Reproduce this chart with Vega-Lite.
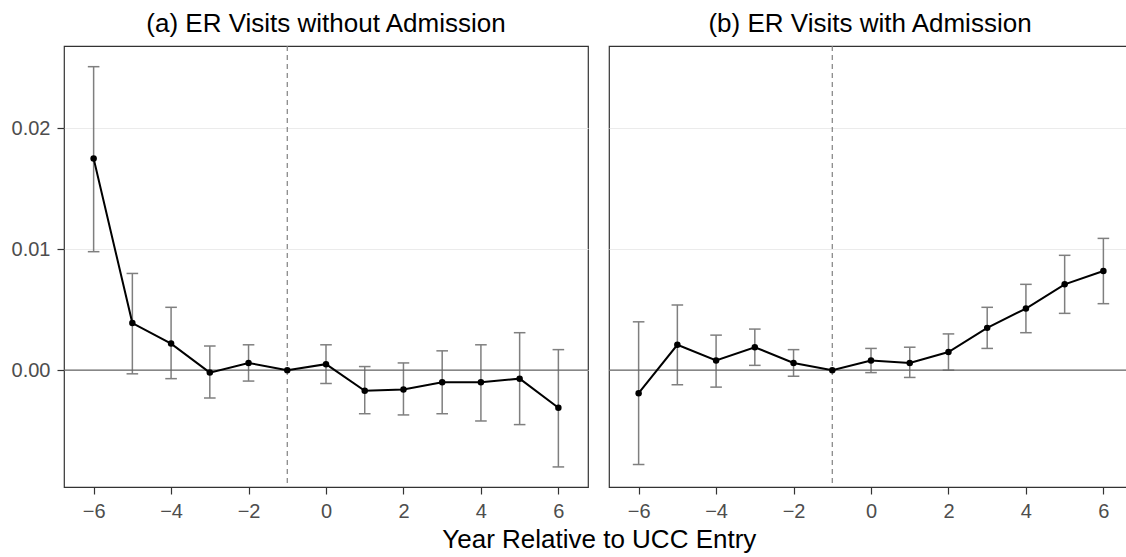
{
  "$schema": "https://vega.github.io/schema/vega-lite/v6.json",
  "background": "white",
  "padding": {"left": 0, "top": 10, "right": 0, "bottom": 0},
  "spacing": 17,
  "datasets": {
    "est": [
      {"panel": "a", "x": -6, "est": 0.0175, "lo": 0.0098, "hi": 0.0251},
      {"panel": "a", "x": -5, "est": 0.0039, "lo": -0.0003, "hi": 0.0080},
      {"panel": "a", "x": -4, "est": 0.0022, "lo": -0.0007, "hi": 0.0052},
      {"panel": "a", "x": -3, "est": -0.0002, "lo": -0.0023, "hi": 0.0020},
      {"panel": "a", "x": -2, "est": 0.0006, "lo": -0.0009, "hi": 0.0021},
      {"panel": "a", "x": -1, "est": 0, "lo": null, "hi": null},
      {"panel": "a", "x": 0, "est": 0.0005, "lo": -0.0011, "hi": 0.0021},
      {"panel": "a", "x": 1, "est": -0.0017, "lo": -0.0036, "hi": 0.0003},
      {"panel": "a", "x": 2, "est": -0.0016, "lo": -0.0037, "hi": 0.0006},
      {"panel": "a", "x": 3, "est": -0.0010, "lo": -0.0036, "hi": 0.0016},
      {"panel": "a", "x": 4, "est": -0.0010, "lo": -0.0042, "hi": 0.0021},
      {"panel": "a", "x": 5, "est": -0.0007, "lo": -0.0045, "hi": 0.0031},
      {"panel": "a", "x": 6, "est": -0.0031, "lo": -0.0080, "hi": 0.0017},
      {"panel": "b", "x": -6, "est": -0.0019, "lo": -0.0078, "hi": 0.0040},
      {"panel": "b", "x": -5, "est": 0.0021, "lo": -0.0012, "hi": 0.0054},
      {"panel": "b", "x": -4, "est": 0.0008, "lo": -0.0014, "hi": 0.0029},
      {"panel": "b", "x": -3, "est": 0.0019, "lo": 0.0004, "hi": 0.0034},
      {"panel": "b", "x": -2, "est": 0.0006, "lo": -0.0005, "hi": 0.0017},
      {"panel": "b", "x": -1, "est": 0, "lo": null, "hi": null},
      {"panel": "b", "x": 0, "est": 0.0008, "lo": -0.0002, "hi": 0.0018},
      {"panel": "b", "x": 1, "est": 0.0006, "lo": -0.0006, "hi": 0.0019},
      {"panel": "b", "x": 2, "est": 0.0015, "lo": 0.0000, "hi": 0.0030},
      {"panel": "b", "x": 3, "est": 0.0035, "lo": 0.0018, "hi": 0.0052},
      {"panel": "b", "x": 4, "est": 0.0051, "lo": 0.0031, "hi": 0.0071},
      {"panel": "b", "x": 5, "est": 0.0071, "lo": 0.0047, "hi": 0.0095},
      {"panel": "b", "x": 6, "est": 0.0082, "lo": 0.0055, "hi": 0.0109}
    ]
  },
  "title": {
    "text": "Year Relative to UCC Entry",
    "orient": "bottom",
    "anchor": "middle",
    "frame": "bounds",
    "dx": 33,
    "fontSize": 26,
    "fontWeight": "normal",
    "font": "Liberation Sans",
    "color": "black",
    "offset": 5
  },
  "config": {
    "view": {"stroke": "#333333", "strokeWidth": 1.2},
    "axis": {
      "labelFont": "Liberation Sans",
      "labelFontSize": 20,
      "labelColor": "#4D4D4D",
      "tickColor": "#333333",
      "tickWidth": 1.2,
      "tickSize": 7,
      "domain": false,
      "title": null
    },
    "axisX": {"labelPadding": 7},
    "axisY": {"labelPadding": 7}
  },
  "hconcat": [
    {
      "width": 524,
      "height": 441,
      "title": {"text": "(a) ER Visits without Admission", "fontSize": 26, "fontWeight": "normal", "font": "Liberation Sans", "color": "black", "anchor": "middle", "frame": "group", "offset": 8},
      "data": {"name": "est"},
      "transform": [{"filter": "datum.panel == 'a'"}],
      "layer": [
        {
          "mark": {"type": "rule", "color": "#7F7F7F", "strokeWidth": 1.5},
          "encoding": {
            "x": {"field": "x", "type": "quantitative", "scale": {"domain": [-6.765, 6.765], "nice": false, "zero": false},
                  "axis": {"values": [-6, -4, -2, 0, 2, 4, 6], "format": "d", "grid": false}},
            "y": {"field": "lo", "type": "quantitative", "scale": {"domain": [-0.00966, 0.02681], "nice": false, "zero": false},
                  "axis": {"values": [0, 0.01, 0.02], "format": ".2f", "grid": true, "gridColor": "#EBEBEB", "gridWidth": 1, "minExtent": 63, "maxExtent": 63}},
            "y2": {"field": "hi"}
          }
        },
        {
          "mark": {"type": "tick", "orient": "horizontal", "color": "#7F7F7F", "size": 11.6, "thickness": 1.5, "opacity": 1},
          "encoding": {"x": {"field": "x", "type": "quantitative"}, "y": {"field": "lo", "type": "quantitative"}}
        },
        {
          "mark": {"type": "tick", "orient": "horizontal", "color": "#7F7F7F", "size": 11.6, "thickness": 1.5, "opacity": 1},
          "encoding": {"x": {"field": "x", "type": "quantitative"}, "y": {"field": "hi", "type": "quantitative"}}
        },
        {
          "data": {"values": [{"z": 0}]},
          "mark": {"type": "rule", "color": "#666666", "strokeWidth": 1.2},
          "encoding": {"y": {"field": "z", "type": "quantitative"}}
        },
        {
          "data": {"values": [{"v": -1}]},
          "mark": {"type": "rule", "color": "#808080", "strokeWidth": 1.2, "strokeDash": [5, 4]},
          "encoding": {"x": {"field": "v", "type": "quantitative"}}
        },
        {
          "mark": {"type": "line", "color": "black", "strokeWidth": 2},
          "encoding": {"x": {"field": "x", "type": "quantitative"}, "y": {"field": "est", "type": "quantitative"}}
        },
        {
          "mark": {"type": "point", "filled": true, "color": "black", "size": 42, "opacity": 1},
          "encoding": {"x": {"field": "x", "type": "quantitative"}, "y": {"field": "est", "type": "quantitative"}}
        }
      ]
    },
    {
      "width": 522,
      "height": 441,
      "title": {"text": "(b) ER Visits with Admission", "fontSize": 26, "fontWeight": "normal", "font": "Liberation Sans", "color": "black", "anchor": "middle", "frame": "group", "offset": 8},
      "data": {"name": "est"},
      "transform": [{"filter": "datum.panel == 'b'"}],
      "layer": [
        {
          "mark": {"type": "rule", "color": "#7F7F7F", "strokeWidth": 1.5},
          "encoding": {
            "x": {"field": "x", "type": "quantitative", "scale": {"domain": [-6.765, 6.713], "nice": false, "zero": false},
                  "axis": {"values": [-6, -4, -2, 0, 2, 4, 6], "format": "d", "grid": false}},
            "y": {"field": "lo", "type": "quantitative", "scale": {"domain": [-0.00966, 0.02681], "nice": false, "zero": false},
                  "axis": {"values": [0, 0.01, 0.02], "grid": true, "gridColor": "#EBEBEB", "gridWidth": 1, "labels": false, "ticks": false, "minExtent": 0, "maxExtent": 0}},
            "y2": {"field": "hi"}
          }
        },
        {
          "mark": {"type": "tick", "orient": "horizontal", "color": "#7F7F7F", "size": 11.6, "thickness": 1.5, "opacity": 1},
          "encoding": {"x": {"field": "x", "type": "quantitative"}, "y": {"field": "lo", "type": "quantitative"}}
        },
        {
          "mark": {"type": "tick", "orient": "horizontal", "color": "#7F7F7F", "size": 11.6, "thickness": 1.5, "opacity": 1},
          "encoding": {"x": {"field": "x", "type": "quantitative"}, "y": {"field": "hi", "type": "quantitative"}}
        },
        {
          "data": {"values": [{"z": 0}]},
          "mark": {"type": "rule", "color": "#666666", "strokeWidth": 1.2},
          "encoding": {"y": {"field": "z", "type": "quantitative"}}
        },
        {
          "data": {"values": [{"v": -1}]},
          "mark": {"type": "rule", "color": "#808080", "strokeWidth": 1.2, "strokeDash": [5, 4]},
          "encoding": {"x": {"field": "v", "type": "quantitative"}}
        },
        {
          "mark": {"type": "line", "color": "black", "strokeWidth": 2},
          "encoding": {"x": {"field": "x", "type": "quantitative"}, "y": {"field": "est", "type": "quantitative"}}
        },
        {
          "mark": {"type": "point", "filled": true, "color": "black", "size": 42, "opacity": 1},
          "encoding": {"x": {"field": "x", "type": "quantitative"}, "y": {"field": "est", "type": "quantitative"}}
        }
      ]
    }
  ]
}
